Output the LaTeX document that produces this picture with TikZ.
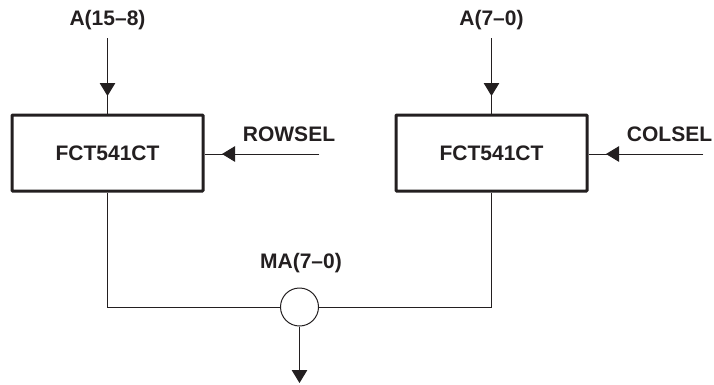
\documentclass[tikz,border=0pt]{standalone}
\usepackage{fontspec}
\setmainfont{Liberation Sans}
\usetikzlibrary{arrows.meta}
\definecolor{ink}{HTML}{231F20}
\begin{document}
\begin{tikzpicture}[x=1pt,y=-1pt,
  blockbox/.style={draw=ink,text=ink,line width=3pt,rounded corners=0.8pt,minimum width=191pt,minimum height=76pt,inner sep=0pt,font=\bfseries\fontsize{21}{24}\selectfont},
  lbl/.style={text=ink,font=\bfseries\fontsize{21}{24}\selectfont,inner sep=0pt},
  wire/.style={draw=ink,line width=1pt},
  arr/.style={wire,-{Triangle[length=13pt,width=15.5pt,color=ink]}}]
\useasboundingbox (0,0) rectangle (714,384);
\node[blockbox] (b1) at (107.5,153) {FCT541CT};
\node[blockbox] (b2) at (491.5,153) {FCT541CT};
\node[lbl] (t1) at (107.5,20.5) {A(15–8)};
\node[lbl] (t2) at (491.5,20.5) {A(7–0)};
\node[lbl] (r) at (289,134) {ROWSEL};
\node[lbl] (c) at (669.5,134) {COLSEL};
\node[lbl] (m) at (301,263.5) {MA(7–0)};
\node[draw=ink,circle,line width=1pt,minimum size=38pt,inner sep=0pt] (o) at (299.5,307) {};
\coordinate (t1s) at (107.5,38);
\coordinate (t2s) at (491.5,38);
\coordinate (t1a) at (107.5,96);
\coordinate (t2a) at (491.5,96);
\coordinate (rs) at (319,154);
\coordinate (cs) at (703,154);
\coordinate (ra) at (222,154);
\coordinate (ca) at (606,154);
\coordinate (d) at (299.5,383);
\draw[wire] (t1s) -- (b1.north);
\draw[arr] (t1s) -- (t1a);
\draw[wire] (t2s) -- (b2.north);
\draw[arr] (t2s) -- (t2a);
\draw[wire] (rs) -- (b1.east |- rs);
\draw[arr] (rs) -- (ra);
\draw[wire] (cs) -- (b2.east |- cs);
\draw[arr] (cs) -- (ca);
\draw[wire] (b1.south) |- (o.west);
\draw[wire] (b2.south) |- (o.east);
\draw[arr] (o.south) -- (d);
\end{tikzpicture}
\end{document}
